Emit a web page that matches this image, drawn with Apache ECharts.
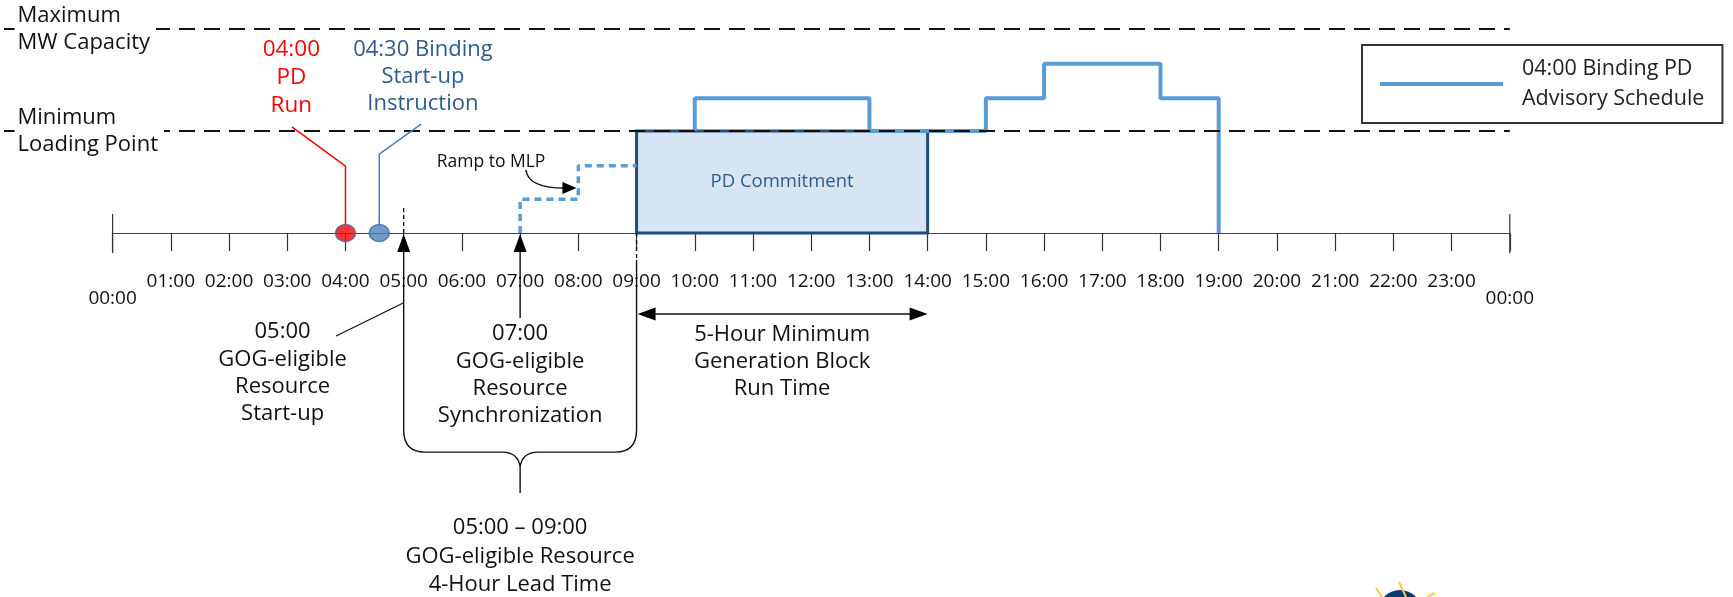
<!DOCTYPE html>
<html>
<head>
<meta charset="utf-8">
<script src="https://cdn.jsdelivr.net/npm/echarts@6/dist/echarts.min.js"></script>
<style>
  html, body { margin: 0; padding: 0; background: #fff; }
  #chart { width: 1733px; height: 597px; }
</style>
</head>
<body>
<div id="chart"></div>
<script>
const FONT = '"Open Sans", "Noto Sans", sans-serif';

// axis ticks, one per hour
const hourLabels = ['00:00', '01:00', '02:00', '03:00', '04:00', '05:00', '06:00', '07:00', '08:00',
  '09:00', '10:00', '11:00', '12:00', '13:00', '14:00', '15:00', '16:00', '17:00', '18:00',
  '19:00', '20:00', '21:00', '22:00', '23:00', '00:00'];

// MW levels (MLP = 50, max capacity = 100)
const maxCapacity = 100;
const minLoading = 50;

// 04:00 binding PD advisory schedule
const scheduleX = [10, 10, 13, 13, 15, 15, 16, 16, 18, 18, 19, 19];
const scheduleY = [50, 66, 66, 50, 50, 66, 66, 83, 83, 66, 66, 0];

// ramp to MLP (dashed)
const rampX = [7, 7, 8, 8, 9];
const rampY = [0, 16.5, 16.5, 33, 33];

// PD commitment block
const commitStart = 9;
const commitEnd = 14;

// 04:00 PD run, 04:30 start-up instruction
const eventHours = [4, 4.58];
const eventColors = ['#FF0000', '#4F81BD'];

const seriesName = '04:00 Binding PD\nAdvisory Schedule';

// text notes: [text, hour, level, colour, size, lineHeight, align]
const notes = [
  ['Maximum\nMW Capacity', -1.685, maxCapacity, '#111', 22, 27, 'left'],
  ['Minimum\nLoading Point', -1.685, minLoading, '#111', 22, 27, 'left'],
  ['04:00\nPD\nRun', 3.07, 76, '#FF0000', 22.5, 28, 'center'],
  ['04:30 Binding\nStart-up\nInstruction', 5.33, 76.6, '#2F5C8C', 22, 27, 'center'],
  ['Ramp to MLP', 6.5, 34.8, '#111', 17.5, 20, 'center'],
  ['05:00\nGOG-eligible\nResource\nStart-up', 2.92, -68.6, '#111', 22, 27.3, 'center'],
  ['07:00\nGOG-eligible\nResource\nSynchronization', 7, -69.6, '#111', 22, 27.3, 'center'],
  ['5-Hour Minimum\nGeneration Block\nRun Time', 11.5, -63.2, '#111', 22, 27.3, 'center'],
  ['05:00 \u2013 09:00\nGOG-eligible Resource\n4-Hour Lead Time', 7, -158.6, '#111', 22, 28.5, 'center']
];

const chart = echarts.init(document.getElementById('chart'));

function renderRefLines(params, api) {
  const kids = [maxCapacity, minLoading].map(v => {
    const end = api.coord([24, v]);
    return {
      type: 'line',
      shape: { x1: 4, y1: end[1], x2: end[0], y2: end[1] },
      style: { stroke: '#111', lineWidth: 1.8, lineDash: [16, 9] }
    };
  });
  return { type: 'group', children: kids };
}

function renderBox(params, api) {
  const a = api.coord([api.value(0), api.value(2)]);
  const b = api.coord([api.value(1), 0]);
  return {
    type: 'group',
    children: [
      { type: 'rect', shape: { x: a[0], y: a[1], width: b[0] - a[0], height: b[1] - a[1] },
        style: { fill: '#D6E4F3', stroke: '#1F4E79', lineWidth: 3 } },
      { type: 'text', x: (a[0] + b[0]) / 2, y: (a[1] + b[1]) / 2,
        style: { text: 'PD Commitment', fill: '#2E5C8A', fontSize: 18.5, fontFamily: FONT,
          align: 'center', verticalAlign: 'middle' } }
    ]
  };
}

function renderNotes(params, api) {
  const c = (x, y) => api.coord([x, y]);
  const kids = [];
  const line = (pts, stroke, w, dash) => kids.push({
    type: 'polyline', shape: { points: pts.map(p => c(p[0], p[1])) },
    style: { fill: null, stroke: stroke || '#111', lineWidth: w || 1.4, lineDash: dash || null }
  });
  const tri = pts => kids.push({ type: 'polygon', shape: { points: pts }, style: { fill: '#000' } });

  const y0 = c(0, 0)[1];
  const [x5] = c(5, 0), [x7] = c(7, 0), [x9] = c(9, 0), [x14] = c(14, 0);

  // taller end ticks at 00:00 and 24:00
  [0, 24].forEach(h => {
    const x = c(h, 0)[0];
    kids.push({ type: 'line', shape: { x1: x, y1: y0 - 19, x2: x, y2: y0 + 20 },
      style: { stroke: '#333', lineWidth: 1.2 } });
  });

  // leader lines to the two event dots
  line([[3.08, 52], [eventHours[0], 32.8], [eventHours[0], 4]], '#FF0000', 1.5);
  line([[5.3, 53.4], [eventHours[1], 38.7], [eventHours[1], 4]], '#4A7EBB', 1.5);

  // dashed guides at 05:00 (above axis) and 09:00 (below axis)
  line([[5, 12.3], [5, 0]], '#111', 1.3, [4, 3]);
  line([[9, 0], [9, -13.2]], '#111', 1.3, [4, 3]);

  // up arrows at 05:00 and 07:00
  [5, 7].forEach(h => {
    const x = c(h, 0)[0];
    tri([[x, y0 + 1], [x - 6.5, y0 + 19], [x + 6.5, y0 + 19]]);
  });
  line([[7, -8.8], [7, -41.7]]);

  // connector from start-up note to the 05:00 line
  line([[3.84, -50.5], [5, -34.2]], '#111', 1.2);

  // brace 05:00 - 09:00
  const ySide = c(0, -96.6)[1], yBar = c(0, -107.4)[1], yTip = c(0, -114.7)[1];
  const yStem = c(0, -127.5)[1], y9 = c(0, -13.2)[1];
  const d = 'M' + x5 + ',' + (y0 + 18) + ' L' + x5 + ',' + ySide +
    ' Q' + x5 + ',' + yBar + ' ' + (x5 + 21) + ',' + yBar +
    ' L' + (x7 - 18) + ',' + yBar + ' Q' + (x7 - 2) + ',' + yBar + ' ' + x7 + ',' + yTip +
    ' Q' + (x7 + 2) + ',' + yBar + ' ' + (x7 + 18) + ',' + yBar +
    ' L' + (x9 - 21) + ',' + yBar + ' Q' + x9 + ',' + yBar + ' ' + x9 + ',' + ySide +
    ' L' + x9 + ',' + y9 + ' M' + x7 + ',' + yTip + ' L' + x7 + ',' + yStem;
  kids.push({ type: 'path', shape: { pathData: d }, style: { fill: null, stroke: '#111', lineWidth: 1.4 } });

  // 5-hour double arrow
  const ya = c(0, -39.7)[1];
  kids.push({ type: 'line', shape: { x1: x9 + 12, y1: ya, x2: x14 - 12, y2: ya }, style: { stroke: '#111', lineWidth: 1.6 } });
  tri([[x9 + 1, ya], [x9 + 19, ya - 6.5], [x9 + 19, ya + 6.5]]);
  tri([[x14, ya], [x14 - 18, ya - 6.5], [x14 - 18, ya + 6.5]]);

  // ramp to MLP curved arrow
  const s = c(7.1, 30.9), t = c(7.95, 22);
  kids.push({ type: 'path',
    shape: { pathData: 'M' + s[0] + ',' + s[1] + ' Q' + (s[0] + 2) + ',' + t[1] + ' ' + (t[0] - 10) + ',' + t[1] },
    style: { fill: null, stroke: '#111', lineWidth: 1.5 } });
  tri([[t[0] + 1, t[1]], [t[0] - 13, t[1] - 6], [t[0] - 13, t[1] + 6]]);

  // text notes
  notes.forEach(n => {
    const p = c(n[1], n[2]);
    const left = n[6] === 'left';
    kids.push({
      type: 'text', x: p[0], y: p[1], z2: 10,
      style: {
        text: n[0], fill: n[3], fontSize: n[4], lineHeight: n[5], fontFamily: FONT,
        align: n[6], verticalAlign: 'middle',
        backgroundColor: left ? '#fff' : null,
        padding: left ? [0, 6, 0, 3] : 0
      }
    });
  });
  return { type: 'group', children: kids };
}

chart.setOption({
  animation: false,
  textStyle: { fontFamily: FONT },
  grid: { left: 112.6, right: 223.2, top: 29, bottom: 364 },
  legend: {
    left: 1362, top: 45,
    data: [{ name: seriesName, icon: 'rect' }],
    itemWidth: 123, itemHeight: 4,
    padding: [9, 18, 9, 18],
    borderColor: '#333', borderWidth: 2,
    textStyle: { fontSize: 21.5, lineHeight: 30, color: '#222', padding: [0, 0, 0, 14], fontFamily: FONT }
  },
  xAxis: [{
    type: 'value', min: 0, max: 24, interval: 1,
    axisLine: { show: true, lineStyle: { color: '#444', width: 1.2 } },
    axisTick: { show: true, length: 18, lineStyle: { color: '#333', width: 1.2 } },
    axisLabel: { formatter: v => (v > 0 && v < 24) ? hourLabels[v] : '', margin: 39,
      fontSize: 19, lineHeight: 20, color: '#111', fontFamily: FONT },
    splitLine: { show: false }
  }, {
    type: 'value', min: 0, max: 24, interval: 1, position: 'bottom',
    axisLine: { show: false }, axisTick: { show: false },
    axisLabel: { formatter: v => (v === 0 || v === 24) ? hourLabels[v] : '', margin: 56,
      fontSize: 19, lineHeight: 20, color: '#111', fontFamily: FONT },
    splitLine: { show: false }
  }],
  yAxis: { type: 'value', min: 0, max: 100, show: false },
  series: [
    {
      type: 'custom', name: 'commitment', silent: true, clip: false, z: 2,
      renderItem: renderBox, data: [[commitStart, commitEnd, minLoading]]
    },
    {
      type: 'line', name: seriesName, z: 3, symbol: 'none', silent: true,
      data: scheduleX.map((x, i) => [x, scheduleY[i]]),
      lineStyle: { color: '#5B9BD5', width: 4 }, itemStyle: { color: '#5B9BD5' }
    },
    {
      type: 'custom', name: 'levels', silent: true, clip: false, z: 4,
      renderItem: renderRefLines, data: [0]
    },
    {
      type: 'line', name: 'ramp', z: 4, symbol: 'none', silent: true,
      data: rampX.map((x, i) => [x, rampY[i]]),
      lineStyle: { color: '#5B9BD5', width: 3.5, type: [7, 5] }
    },
    {
      type: 'scatter', name: 'events', z: 5, silent: true, clip: false,
      symbolSize: [20, 17],
      data: eventHours.map((h, i) => ({ value: [h, 0], itemStyle: { color: eventColors[i] } })),
      itemStyle: { borderColor: '#41719C', borderWidth: 1.5 }
    },
    {
      type: 'custom', name: 'notes', silent: true, clip: false, z: 6,
      renderItem: renderNotes, data: [0]
    }
  ],
  graphic: [
    { type: 'circle', shape: { cx: 1400, cy: 612, r: 22 }, style: { fill: '#0B3A6E' } },
    { type: 'line', shape: { x1: 1376, y1: 588, x2: 1382, y2: 597 }, style: { stroke: '#F2C94C', lineWidth: 2 } },
    { type: 'line', shape: { x1: 1399, y1: 582, x2: 1406, y2: 597 }, style: { stroke: '#F2C94C', lineWidth: 2 } },
    { type: 'line', shape: { x1: 1435, y1: 593, x2: 1427, y2: 597 }, style: { stroke: '#F2C94C', lineWidth: 2 } }
  ]
});
</script>
</body>
</html>
